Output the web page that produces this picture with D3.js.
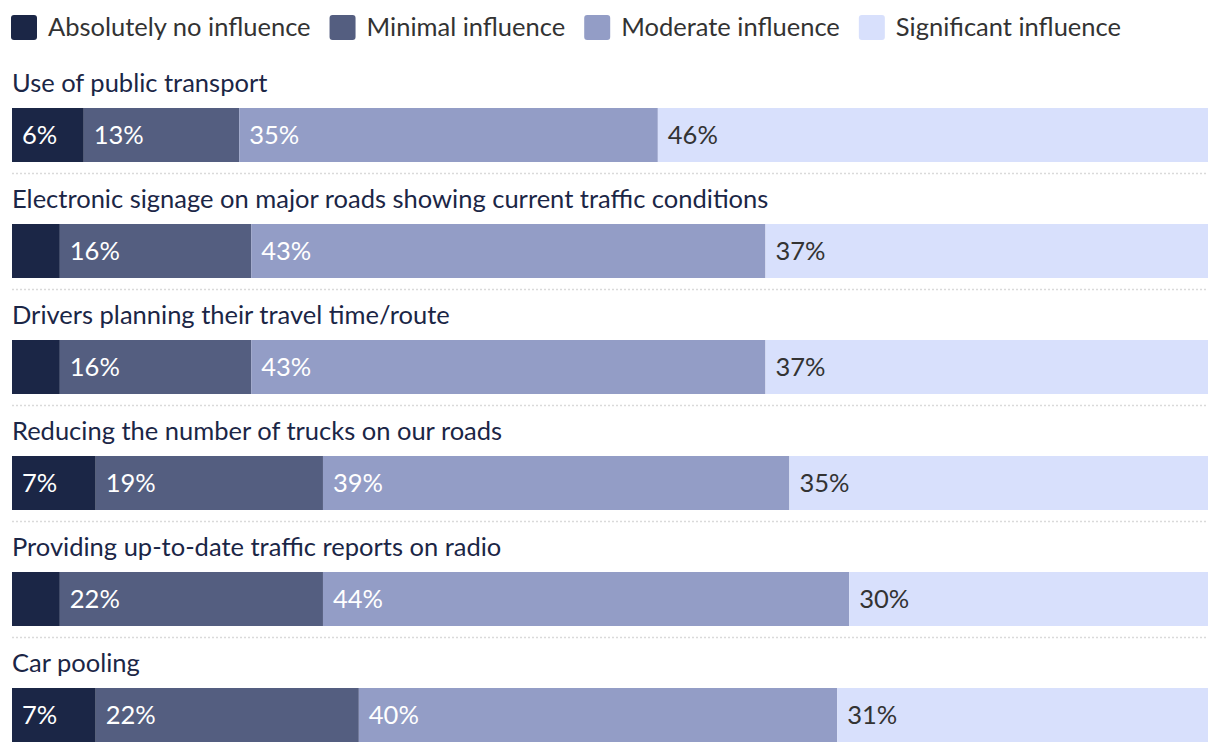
<!DOCTYPE html>
<html>
<head>
<meta charset="utf-8">
<script src="https://cdn.jsdelivr.net/npm/d3@7"></script>
<style>
  html, body { margin: 0; padding: 0; background: #fff; }
  svg { display: block; font-family: Lato, "Noto Sans", sans-serif; }
</style>
</head>
<body>
<svg id="chart" width="1220" height="752"></svg>
<script>
const categories = [
  "Use of public transport",
  "Electronic signage on major roads showing current traffic conditions",
  "Drivers planning their travel time/route",
  "Reducing the number of trucks on our roads",
  "Providing up-to-date traffic reports on radio",
  "Car pooling"
];
const seriesNames = ["Absolutely no influence", "Minimal influence", "Moderate influence", "Significant influence"];
const absolutelyNo = [6, 4, 4, 7, 4, 7];
const minimal      = [13, 16, 16, 19, 22, 22];
const moderate     = [35, 43, 43, 39, 44, 40];
const significant  = [46, 37, 37, 35, 30, 31];
const colors = ["#1b2646", "#545e80", "#939dc6", "#d8e0fc"];
const labelColors = ["#ffffff", "#ffffff", "#ffffff", "#333333"];

const seriesValues = [absolutelyNo, minimal, moderate, significant];
const data = categories.map((c, i) => {
  const row = { category: c };
  seriesNames.forEach((s, k) => row[s] = seriesValues[k][i]);
  return row;
});
const stacked = d3.stack().keys(seriesNames)(data);

const svg = d3.select("#chart");
const left = 12, right = 1208;
const x = d3.scaleLinear().domain([0, 100]).range([left, right]);
const rowPitch = 116, firstTop = 108, barH = 54;
const y = i => firstTop + i * rowPitch;

const FS = 25.5;

// Legend
const legend = svg.append("g");
let lx = 11;
seriesNames.forEach((s, k) => {
  legend.append("rect").attr("x", lx).attr("y", 15).attr("width", 26).attr("height", 25)
    .attr("rx", 3).attr("fill", colors[k]);
  const t = legend.append("text").attr("x", lx + 37).attr("y", 36)
    .attr("font-size", FS).attr("fill", "#333").text(s);
  const w = t.node().getComputedTextLength();
  lx = lx + 37 + w + 19;
});

// Row labels
svg.append("g").selectAll("text").data(categories).join("text")
  .attr("x", left).attr("y", (d, i) => y(i) - 16)
  .attr("font-size", FS).attr("fill", "#1b2646").text(d => d);

// Separators
svg.append("g").selectAll("line").data(categories.slice(0, -1)).join("line")
  .attr("x1", left).attr("x2", right)
  .attr("y1", (d, i) => y(i) + 65.5).attr("y2", (d, i) => y(i) + 65.5)
  .attr("stroke", "#dadada").attr("stroke-width", 1.5).attr("stroke-dasharray", "2,2");

// Bars
const groups = svg.append("g").selectAll("g").data(stacked).join("g")
  .attr("fill", (d, k) => colors[k]);
groups.selectAll("rect").data(d => d).join("rect")
  .attr("x", d => x(d[0])).attr("width", d => x(d[1]) - x(d[0]))
  .attr("y", (d, i) => y(i)).attr("height", barH);

// Value labels
const lab = svg.append("g").selectAll("g").data(stacked).join("g")
  .attr("fill", (d, k) => labelColors[k]);
lab.selectAll("text").data(d => d.filter(v => v[1] - v[0] >= 5).map(v => ({v, i: d.indexOf(v)})))
  .join("text")
  .attr("x", d => x(d.v[0]) + 10)
  .attr("y", d => y(d.i) + barH / 2)
  .attr("dy", "0.35em")
  .attr("font-size", FS)
  .text(d => (d.v[1] - d.v[0]) + "%");
</script>
</body>
</html>
